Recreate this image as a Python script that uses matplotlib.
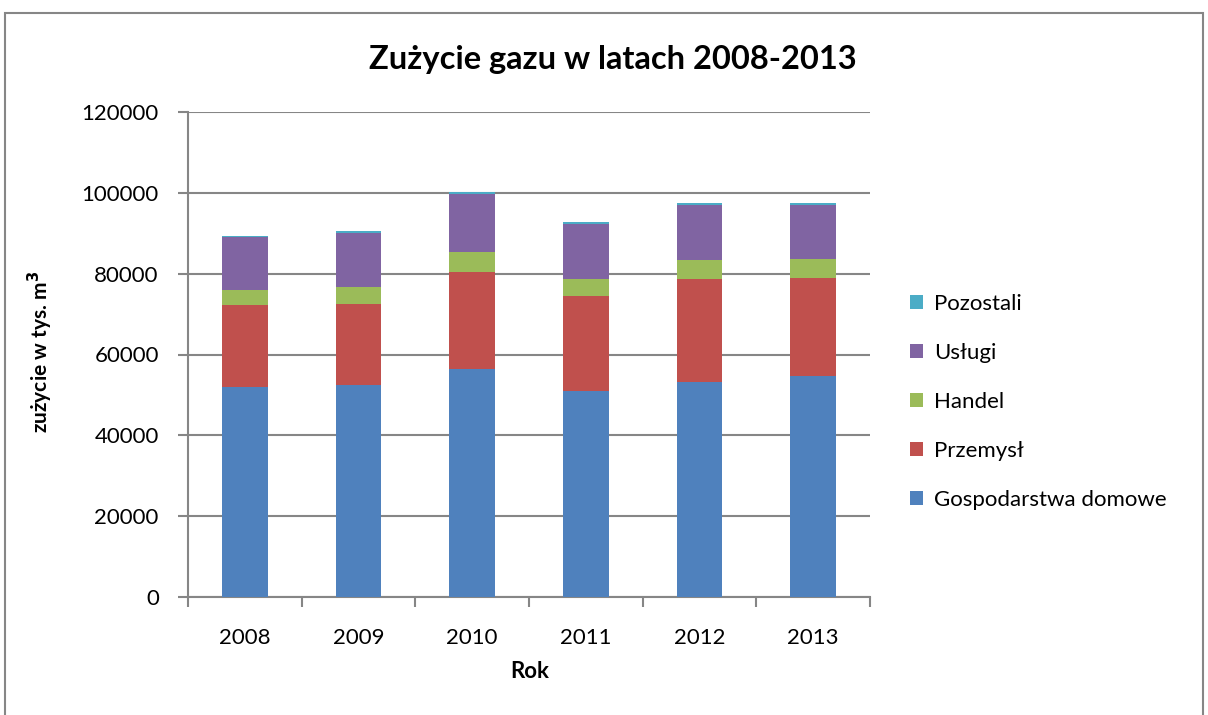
import matplotlib
matplotlib.use("Agg")
import matplotlib.pyplot as plt
from matplotlib.patches import Rectangle, Patch
import numpy as np

plt.rcParams['font.family'] = ['Lato', 'DejaVu Sans']

years = ["2008", "2009", "2010", "2011", "2012", "2013"]
gospodarstwa = [51900, 52500, 56300, 50900, 53100, 54700]
przemysl = [20300, 20000, 24200, 23500, 25500, 24300]
handel = [3800, 4200, 4800, 4200, 4700, 4700]
uslugi = [13000, 13400, 14500, 13700, 13800, 13400]
pozostali = [400, 400, 400, 400, 400, 400]

series = [
    ("Gospodarstwa domowe", gospodarstwa, "#4F81BD"),
    ("Przemysł", przemysl, "#C0504D"),
    ("Handel", handel, "#9BBB59"),
    ("Usługi", uslugi, "#8064A2"),
    ("Pozostali", pozostali, "#4BACC6"),
]

fig = plt.figure(figsize=(12.08, 7.15), dpi=100)
fig.patches.append(Rectangle((5/1208, -0.01), 1198/1208, 1 - 13/715 + 0.01,
                             transform=fig.transFigure, fill=False,
                             edgecolor="#868686", linewidth=1.5))

ax = fig.add_axes([188/1208, 1 - 597/715, (870 - 188)/1208, (597 - 112)/715])
x = np.arange(len(years))
bottom = np.zeros(len(years))
handles = []
for name, vals, col in series:
    ax.bar(x, vals, width=0.4, bottom=bottom, color=col, zorder=3, linewidth=0)
    bottom += np.array(vals)
    handles.append(Patch(facecolor=col, label=name))

ax.set_xlim(-0.5, len(years) - 0.5)
ax.set_ylim(0, 120000)
ax.set_yticks(np.arange(0, 120001, 20000))
ax.set_yticklabels([str(v) for v in range(0, 120001, 20000)], fontsize=16)
ax.set_xticks(x)
ax.set_xticklabels(years, fontsize=16)
ax.set_xticks(np.arange(-0.5, len(years), 1), minor=True)
ax.tick_params(axis='x', which='major', length=0, pad=22)
ax.tick_params(axis='x', which='minor', length=7, color="#868686", width=1.5)
ax.tick_params(axis='y', length=7, color="#868686", width=1.5, pad=14)
ax.grid(axis='y', color="#868686", linewidth=1.5, zorder=0)
for s in ['top', 'right']:
    ax.spines[s].set_visible(False)
for s in ['left', 'bottom']:
    ax.spines[s].set_color("#868686")
    ax.spines[s].set_linewidth(1.5)

fig.text(613/1208, 1 - 60/715, "Zużycie gazu w latach 2008-2013", ha='center', va='center',
         fontsize=23.5, fontweight='bold')
fig.text(40/1208, 1 - 352/715, "zużycie w tys. m$^\\mathbf{3}$", rotation=90, ha='center', va='center',
         fontsize=15, fontweight='bold')
fig.text(530/1208, 1 - 672/715, "Rok", ha='center', va='center', fontsize=16, fontweight='bold')

fig.legend(handles=handles[::-1], loc='center left', bbox_to_anchor=(890/1208, 1 - 402/715),
           frameon=False, fontsize=16, handlelength=0.6, handleheight=0.6,
           handletextpad=0.5, labelspacing=1.3)

fig.savefig("out.png", dpi=100)
